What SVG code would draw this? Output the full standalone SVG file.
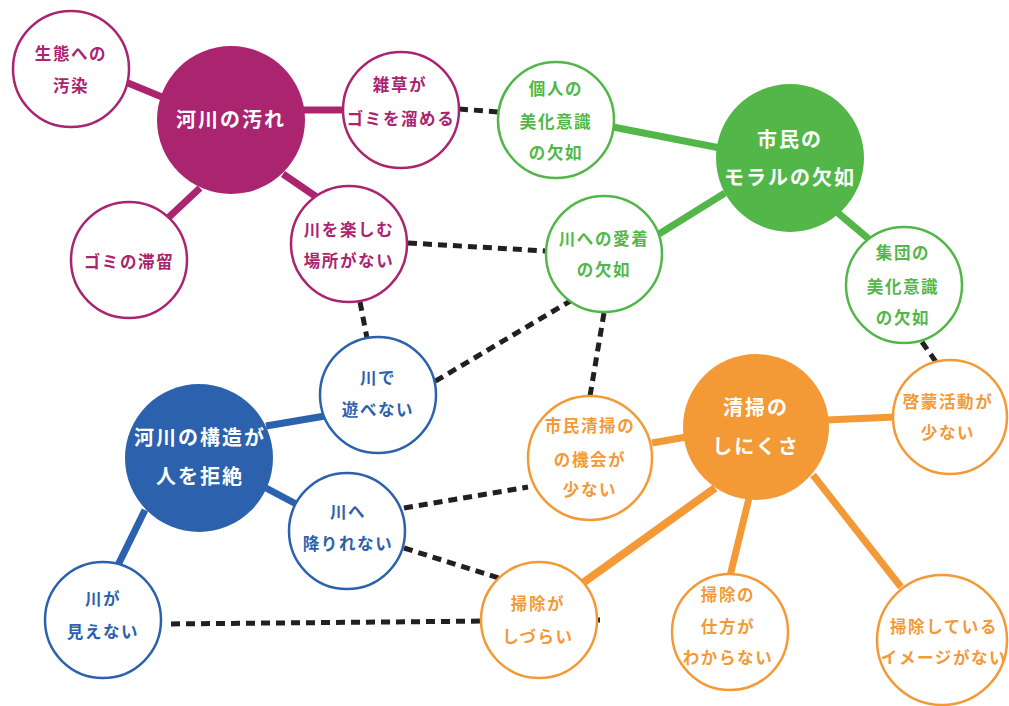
<svg xmlns="http://www.w3.org/2000/svg" width="1009" height="706" viewBox="0 0 1009 706">
<style>
text{font-family:"Noto Sans CJK JP","Noto Sans",sans-serif;font-weight:700;text-anchor:middle}
.s{font-size:16.5px;letter-spacing:1.6px}
.b{font-size:20px;letter-spacing:2px;fill:#fff}
.m{stroke:#AA2470}.g{stroke:#52B748}.bl{stroke:#2C62AD}.o{stroke:#F39A37}
.ln{stroke-width:7;fill:none}
.dot{stroke:#231F20;stroke-width:5;stroke-dasharray:9 6;fill:none}
.c{fill:#fff;stroke-width:2.5}
.tm{fill:#AA2470}.tg{fill:#52B748}.tb{fill:#2C62AD}.to{fill:#F39A37}
</style>
<rect width="1009" height="706" fill="#fff"/>
<g id="connectors">
<line class="ln m" x1="128" y1="83" x2="162" y2="97"/>
<line class="ln m" x1="300" y1="110" x2="345" y2="110"/>
<line class="ln m" x1="200" y1="188" x2="168" y2="218"/>
<line class="ln m" x1="283" y1="174" x2="318" y2="198"/>
<line class="ln g" x1="613" y1="127" x2="720" y2="148"/>
<line class="ln g" x1="659" y1="234" x2="725" y2="193"/>
<line class="ln g" x1="838" y1="213" x2="870" y2="240"/>
<line class="ln bl" x1="266" y1="426" x2="325" y2="416"/>
<line class="ln bl" x1="266" y1="488" x2="298" y2="505"/>
<line class="ln bl" x1="145" y1="510" x2="118" y2="565"/>
<line class="ln o" x1="652" y1="443" x2="686" y2="437"/>
<line class="ln o" x1="826" y1="420" x2="895" y2="417"/>
<line class="ln o" x1="715" y1="488" x2="580" y2="585" style="stroke-width:8"/>
<line class="ln o" x1="749" y1="498" x2="730" y2="576"/>
<line class="ln o" x1="813" y1="475" x2="901" y2="587"/>
<line class="dot" x1="459" y1="109" x2="499" y2="112"/>
<line class="dot" x1="408" y1="243" x2="546" y2="251"/>
<line class="dot" x1="360" y1="302" x2="367" y2="338"/>
<line class="dot" x1="572" y1="300" x2="434" y2="382"/>
<line class="dot" x1="604" y1="313" x2="590" y2="396"/>
<line class="dot" x1="404" y1="508" x2="528" y2="487"/>
<line class="dot" x1="404" y1="548" x2="499" y2="578"/>
<line class="dot" x1="600" y1="620" x2="166" y2="624"/>
<line class="dot" x1="922" y1="342" x2="936" y2="362"/>
</g>
<g id="n-kasen-yogore"><circle cx="231" cy="120" r="74" fill="#AA2470"/><text class="b" x="231" y="127">河川の汚れ</text></g>
<g id="n-seitai"><circle class="c m" cx="71" cy="69" r="58"/><text class="s tm" x="71" y="60">生態への</text><text class="s tm" x="71" y="92">汚染</text></g>
<g id="n-gomi-tairyu"><circle class="c m" cx="129" cy="260" r="58"/><text class="s tm" x="129" y="268">ゴミの滞留</text></g>
<g id="n-zassou"><circle class="c m" cx="401" cy="110" r="58"/><text class="s tm" x="400" y="91">雑草が</text><text class="s tm" x="401" y="125">ゴミを溜める</text></g>
<g id="n-tanoshimu"><circle class="c m" cx="349" cy="244" r="58"/><text class="s tm" x="349" y="236">川を楽しむ</text><text class="s tm" x="349" y="267">場所がない</text></g>
<g id="n-moral"><circle cx="790" cy="158" r="74" fill="#52B748"/><text class="b" x="790" y="147">市民の</text><text class="b" x="790" y="185">モラルの欠如</text></g>
<g id="n-kojin"><circle class="c g" cx="556" cy="120" r="58"/><text class="s tg" x="556" y="95">個人の</text><text class="s tg" x="556" y="128">美化意識</text><text class="s tg" x="556" y="159">の欠如</text></g>
<g id="n-aichaku"><circle class="c g" cx="604" cy="254" r="58"/><text class="s tg" x="604" y="245">川への愛着</text><text class="s tg" x="604" y="276">の欠如</text></g>
<g id="n-shudan"><circle class="c g" cx="904" cy="285" r="58"/><text class="s tg" x="903" y="259">集団の</text><text class="s tg" x="903" y="293">美化意識</text><text class="s tg" x="903" y="324">の欠如</text></g>
<g id="n-kouzou"><circle cx="199" cy="458" r="74" fill="#2C62AD"/><text class="b" x="200" y="445">河川の構造が</text><text class="b" x="200" y="484">人を拒絶</text></g>
<g id="n-asobenai"><circle class="c bl" cx="378" cy="395" r="58"/><text class="s tb" x="378" y="384">川で</text><text class="s tb" x="378" y="416">遊べない</text></g>
<g id="n-orirenai"><circle class="c bl" cx="347" cy="531" r="58"/><text class="s tb" x="348" y="518">川へ</text><text class="s tb" x="348" y="550">降りれない</text></g>
<g id="n-mienai"><circle class="c bl" cx="103" cy="620" r="58"/><text class="s tb" x="103" y="605">川が</text><text class="s tb" x="103" y="638">見えない</text></g>
<g id="n-seisou"><circle cx="756" cy="427" r="73" fill="#F39A37"/><text class="b" x="756" y="415">清掃の</text><text class="b" x="756" y="454">しにくさ</text></g>
<g id="n-kikai"><circle class="c o" cx="590" cy="458" r="62"/><text class="s to" x="590" y="432">市民清掃の</text><text class="s to" x="590" y="466">の機会が</text><text class="s to" x="590" y="496">少ない</text></g>
<g id="n-keimou"><circle class="c o" cx="950" cy="417" r="57"/><text class="s to" x="948" y="408">啓蒙活動が</text><text class="s to" x="948" y="439">少ない</text></g>
<g id="n-shizurai"><circle class="c o" cx="539" cy="620" r="58"/><text class="s to" x="538" y="610">掃除が</text><text class="s to" x="538" y="643">しづらい</text></g>
<g id="n-shikata"><circle class="c o" cx="730" cy="632" r="58"/><text class="s to" x="728" y="601">掃除の</text><text class="s to" x="728" y="633">仕方が</text><text class="s to" x="728" y="664">わからない</text></g>
<g id="n-image"><circle class="c o" cx="942" cy="640" r="65"/><text class="s to" x="944" y="633">掃除している</text><text class="s to" x="944" y="664">イメージがない</text></g>
</svg>
